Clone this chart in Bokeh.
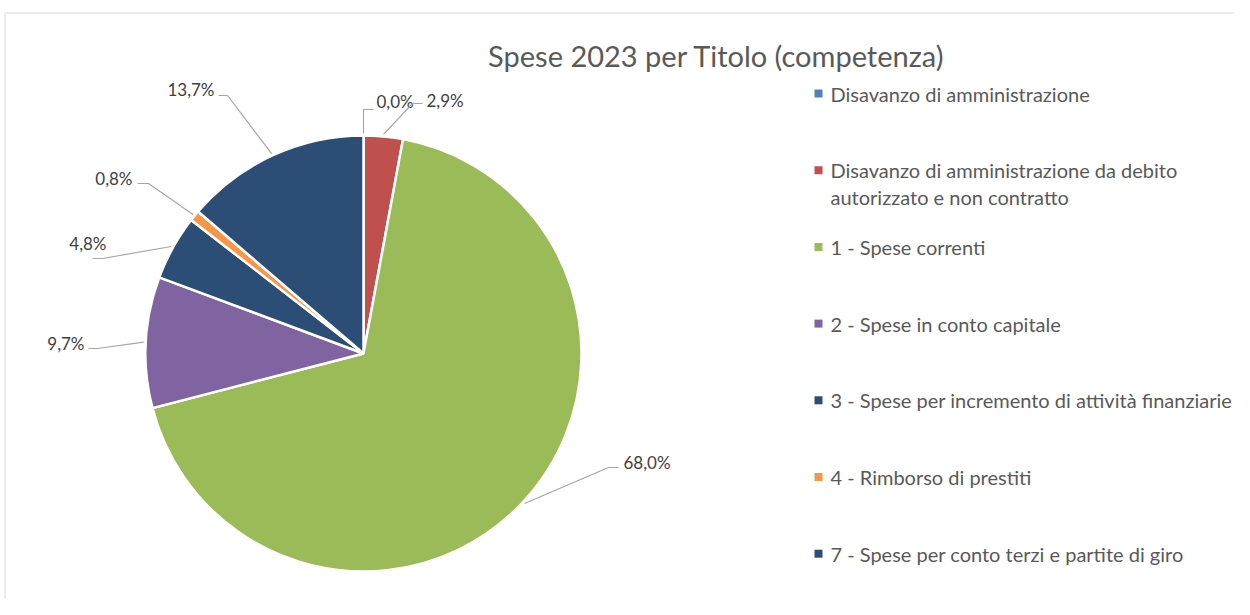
import math
from bokeh.plotting import figure
from bokeh.models import Range1d
from bokeh.core.properties import value
from bokeh.embed import file_html
from bokeh.resources import INLINE

# ---------------- data ----------------
title = "Spese 2023 per Titolo (competenza)"
categories = [
    "Disavanzo di amministrazione",
    "Disavanzo di amministrazione da debito\nautorizzato e non contratto",
    "1 - Spese correnti",
    "2 - Spese in conto capitale",
    "3 - Spese per incremento di attività finanziarie",
    "4 - Rimborso di prestiti",
    "7 - Spese per conto terzi e partite di giro",
]
shares = [0.0, 2.9, 68.0, 9.7, 4.8, 0.8, 13.7]
pct_labels = ["0,0%", "2,9%", "68,0%", "9,7%", "4,8%", "0,8%", "13,7%"]
colors = ["#4F81BD", "#C0504D", "#9BBB59", "#8064A2", "#2C4D75", "#F79646", "#2C4D75"]

# ---------------- layout (px, y down) ----------------
W, H = 1234, 599
CX, CY, R = 363, 353, 218
FONT = "Lato"
lab_pos = [(376, 101), (426, 100), (623, 462), (84, 343), (106, 243), (132, 178), (214, 89)]
lab_align = ["left", "left", "left", "right", "right", "right", "right"]
elbow_a = [(363, 109), (412, 103), (608, 467), (97, 348), (102, 258), (148, 183), (227, 95)]
elbow_b = [(373, 109), (422, 103), (618, 467), (88, 348), (92, 258), (137, 183), (218, 95)]
legend_x, legend_y0, legend_step = 818, 93, 76.7


def Y(y):
    return -y


p = figure(width=W, height=H, output_backend="svg", toolbar_location=None,
           x_range=Range1d(0, W), y_range=Range1d(-H, 0),
           x_axis_type=None, y_axis_type=None, min_border=0)
p.grid.visible = False
p.outline_line_color = None
p.background_fill_color = "white"
p.border_fill_color = "white"

# chart frame
p.line([4.5, W], [Y(12.5), Y(12.5)], line_color="#D9D9D9", line_width=1)
p.line([4.5, 4.5], [Y(12.5), Y(H)], line_color="#D9D9D9", line_width=1)

# title
p.text([716], [Y(55)], text=[title], text_font=value(FONT), text_font_size="29px",
       text_color="#595959", text_align="center", text_baseline="middle")

# pie
total = sum(shares)
cum = 0.0
starts, ends, mids = [], [], []
for v in shares:
    a0 = math.pi / 2 - 2 * math.pi * cum / total
    cum += v
    a1 = math.pi / 2 - 2 * math.pi * cum / total
    starts.append(a0)
    ends.append(a1)
    mids.append((a0 + a1) / 2)

for s, e, c, v in zip(starts, ends, colors, shares):
    if v <= 0:
        continue
    p.wedge(x=[CX], y=[Y(CY)], radius=R, start_angle=s, end_angle=e, direction="clock",
            fill_color=c, line_color="white", line_width=2.5)

# leader lines and labels
for i, m in enumerate(mids):
    ax = CX + (R + 2) * math.cos(m)
    ay = CY - (R + 2) * math.sin(m)
    xs = [ax, elbow_a[i][0], elbow_b[i][0]]
    ys = [Y(ay), Y(elbow_a[i][1]), Y(elbow_b[i][1])]
    p.line(xs, ys, line_color="#A6A6A6", line_width=1.2)
    p.text([lab_pos[i][0]], [Y(lab_pos[i][1])], text=[pct_labels[i]], text_font=value(FONT),
           text_font_size="17px", text_color="#404040", text_align=lab_align[i],
           text_baseline="middle")

# legend
for i, (name, c) in enumerate(zip(categories, colors)):
    yy = legend_y0 + i * legend_step
    p.scatter([legend_x], [Y(yy)], marker="square", size=8, fill_color=c, line_color=None)
    for j, line in enumerate(name.split("\n")):
        p.text([legend_x + 12], [Y(yy + j * 27)], text=[line], text_font=value(FONT),
               text_font_size="20px", text_color="#595959", text_align="left",
               text_baseline="middle")

open("out.html", "w").write(file_html(p, INLINE))
